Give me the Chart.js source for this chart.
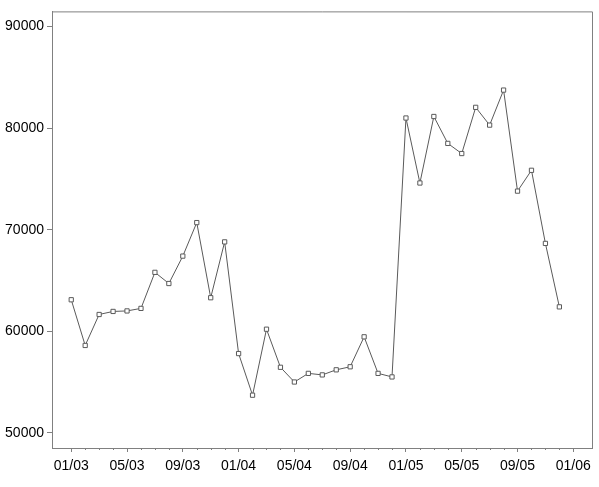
<!DOCTYPE html>
<html lang="en">
<head>
    <meta charset="UTF-8">
    <title>Monthly series 2003-2005</title>
    <script src="https://cdn.jsdelivr.net/npm/chart.js"></script>
    <style>
        body { margin: 0; background: #fff; }
    </style>
</head>
<body>
    <canvas id="chart" width="599" height="487"></canvas>

    <script>
// month index: 0 = Jan 2003
const months = [];
for (let i = 0; i < 36; i++) months.push(i);

const values = [
    63100, 58600, 61650, 61950, 62000, 62250, 65800, 64700, 67400, 70700, 63300, 68800,
    57800, 53700, 60200, 56450, 55000, 55850, 55700, 56200, 56500, 59450, 55850, 55500,
    81000, 74600, 81150, 78500, 77500, 82050, 80300, 83750, 73800, 75850, 68650, 62400
];

const yTicks = [50000, 60000, 70000, 80000, 90000];
const xLabels = ['01/03', '05/03', '09/03', '01/04', '05/04', '09/04', '01/05', '05/05', '09/05', '01/06'];

const axisGray = '#808080';
const font = { family: "'Liberation Sans', Arial, sans-serif", size: 14 };

// short minor ticks on the month axis
const minorTicks = {
    id: 'minorTicks',
    afterDraw(chart) {
        const x = chart.scales.x;
        const ctx = chart.ctx;
        ctx.save();
        ctx.strokeStyle = axisGray;
        ctx.lineWidth = 1;
        for (let m = 0; m <= 36; m++) {
            if (m % 4 === 0) continue;
            const px = Math.round(x.getPixelForValue(m)) + 0.5;
            ctx.beginPath();
            ctx.moveTo(px, x.top);
            ctx.lineTo(px, x.top + 2);
            ctx.stroke();
        }
        ctx.restore();
    }
};

new Chart(document.getElementById('chart'), {
    type: 'line',
    data: {
        datasets: [{
            data: months.map((m, i) => ({ x: m, y: values[i] })),
            borderColor: '#5a5a5a',
            borderWidth: 1,
            tension: 0,
            pointStyle: 'rect',
            pointRadius: 3,
            pointBorderWidth: 1,
            pointBorderColor: '#5a5a5a',
            pointBackgroundColor: '#ffffff'
        }]
    },
    options: {
        responsive: false,
        animation: false,
        layout: { padding: { top: 8, right: 7, left: 0, bottom: 0 } },
        plugins: {
            legend: { display: false },
            tooltip: { enabled: false }
        },
        scales: {
            x: {
                type: 'linear',
                min: -1.38,
                max: 37.34,
                afterBuildTicks: s => { s.ticks = xLabels.map((l, i) => ({ value: i * 4 })); },
                afterFit: s => { s.height = 39; },
                border: { color: axisGray, width: 1 },
                grid: { drawOnChartArea: false, tickLength: 4, tickColor: axisGray },
                ticks: {
                    autoSkip: false,
                    maxRotation: 0,
                    padding: 6,
                    color: '#000',
                    font: font,
                    callback: v => xLabels[v / 4]
                }
            },
            y: {
                min: 48500,
                max: 91500,
                afterBuildTicks: s => { s.ticks = yTicks.map(v => ({ value: v })); },
                afterFit: s => { s.width = 52; },
                border: { color: axisGray, width: 1 },
                grid: { drawOnChartArea: false, tickLength: 5, tickColor: axisGray },
                ticks: {
                    padding: 3,
                    color: '#000',
                    font: font,
                    callback: v => String(v)
                }
            }
        }
    },
    plugins: [minorTicks, {
        id: 'frame',
        afterDraw(chart) {
            const a = chart.chartArea;
            const ctx = chart.ctx;
            ctx.save();
            ctx.strokeStyle = axisGray;
            ctx.lineWidth = 1;
            ctx.beginPath();
            ctx.moveTo(a.left, a.top + 0.5);
            ctx.lineTo(a.right + 0.5, a.top + 0.5);
            ctx.lineTo(a.right + 0.5, a.bottom);
            ctx.stroke();
            ctx.restore();
        }
    }]
});
    </script>
</body>
</html>
